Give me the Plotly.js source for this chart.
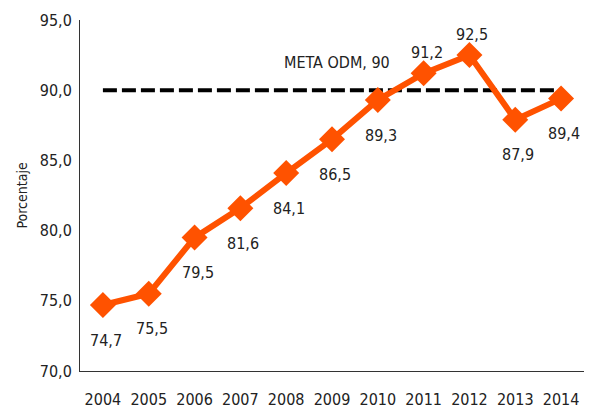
<!DOCTYPE html>
<html>
<head>
<meta charset="utf-8">
<script src="https://cdn.plot.ly/plotly-3.0.1.min.js"></script>
<style>html,body{margin:0;padding:0;background:#fff;}#chart{width:590px;height:408px;}</style>
</head>
<body>
<div id="chart"></div>
<script>
const years = ['2004','2005','2006','2007','2008','2009','2010','2011','2012','2013','2014'];
const values = [74.7, 75.5, 79.5, 81.6, 84.1, 86.5, 89.3, 91.2, 92.5, 87.9, 89.4];
const goal = 90;
const goalLabel = 'META ODM, 90';
const labelAbove = [false, false, false, false, false, false, false, true, true, false, false];

const FONT = '"Liberation Sans Narrow", "DejaVu Sans Condensed", "Roboto", sans-serif';
const fmt = v => v.toFixed(1).replace('.', ',');

const traces = [
  {
    x: years, y: years.map(() => goal), type: 'scatter', mode: 'lines',
    line: {color: '#000', width: 4, dash: '14px,5px'}, hoverinfo: 'skip'
  },
  {
    x: years, y: values, type: 'scatter', mode: 'lines+markers',
    line: {color: '#FF5200', width: 6},
    marker: {symbol: 'diamond', size: 20, color: '#FF5200'}
  }
];

const annotations = values.map((v, i) => ({
  x: i, y: v, xref: 'x', yref: 'y', text: fmt(v), showarrow: false,
  xshift: 3, yshift: labelAbove[i] ? 21 : -35,
  font: {family: FONT, size: 16, color: '#222'}
}));
annotations.push({
  x: years.indexOf('2009'), y: goal, xref: 'x', yref: 'y', text: goalLabel, showarrow: false,
  xshift: 5, yshift: 28, font: {family: FONT, size: 16, color: '#222'}
});

const layout = {
  width: 590, height: 408,
  margin: {l: 80, r: 6, t: 20, b: 37},
  paper_bgcolor: '#fff', plot_bgcolor: '#fff',
  separators: ',.',
  showlegend: false,
  font: {family: FONT, size: 16, color: '#222'},
  xaxis: {
    type: 'category', range: [-0.5, 10.5],
    showline: true, linecolor: '#333', linewidth: 1,
    showgrid: false, zeroline: false, ticks: '',
    ticklabelstandoff: 14,
    tickfont: {family: FONT, size: 16, color: '#222'}
  },
  yaxis: {
    range: [70, 95], dtick: 5, tickformat: '.1f',
    showline: true, linecolor: '#333', linewidth: 1,
    showgrid: false, zeroline: false, ticks: '',
    ticklabelstandoff: 4,
    tickfont: {family: FONT, size: 16, color: '#222'},
    title: {text: 'Porcentaje', font: {family: FONT, size: 14, color: '#222'}, standoff: 8}
  },
  annotations: annotations
};

Plotly.newPlot('chart', traces, layout, {displayModeBar: false, staticPlot: true});
</script>
</body>
</html>
